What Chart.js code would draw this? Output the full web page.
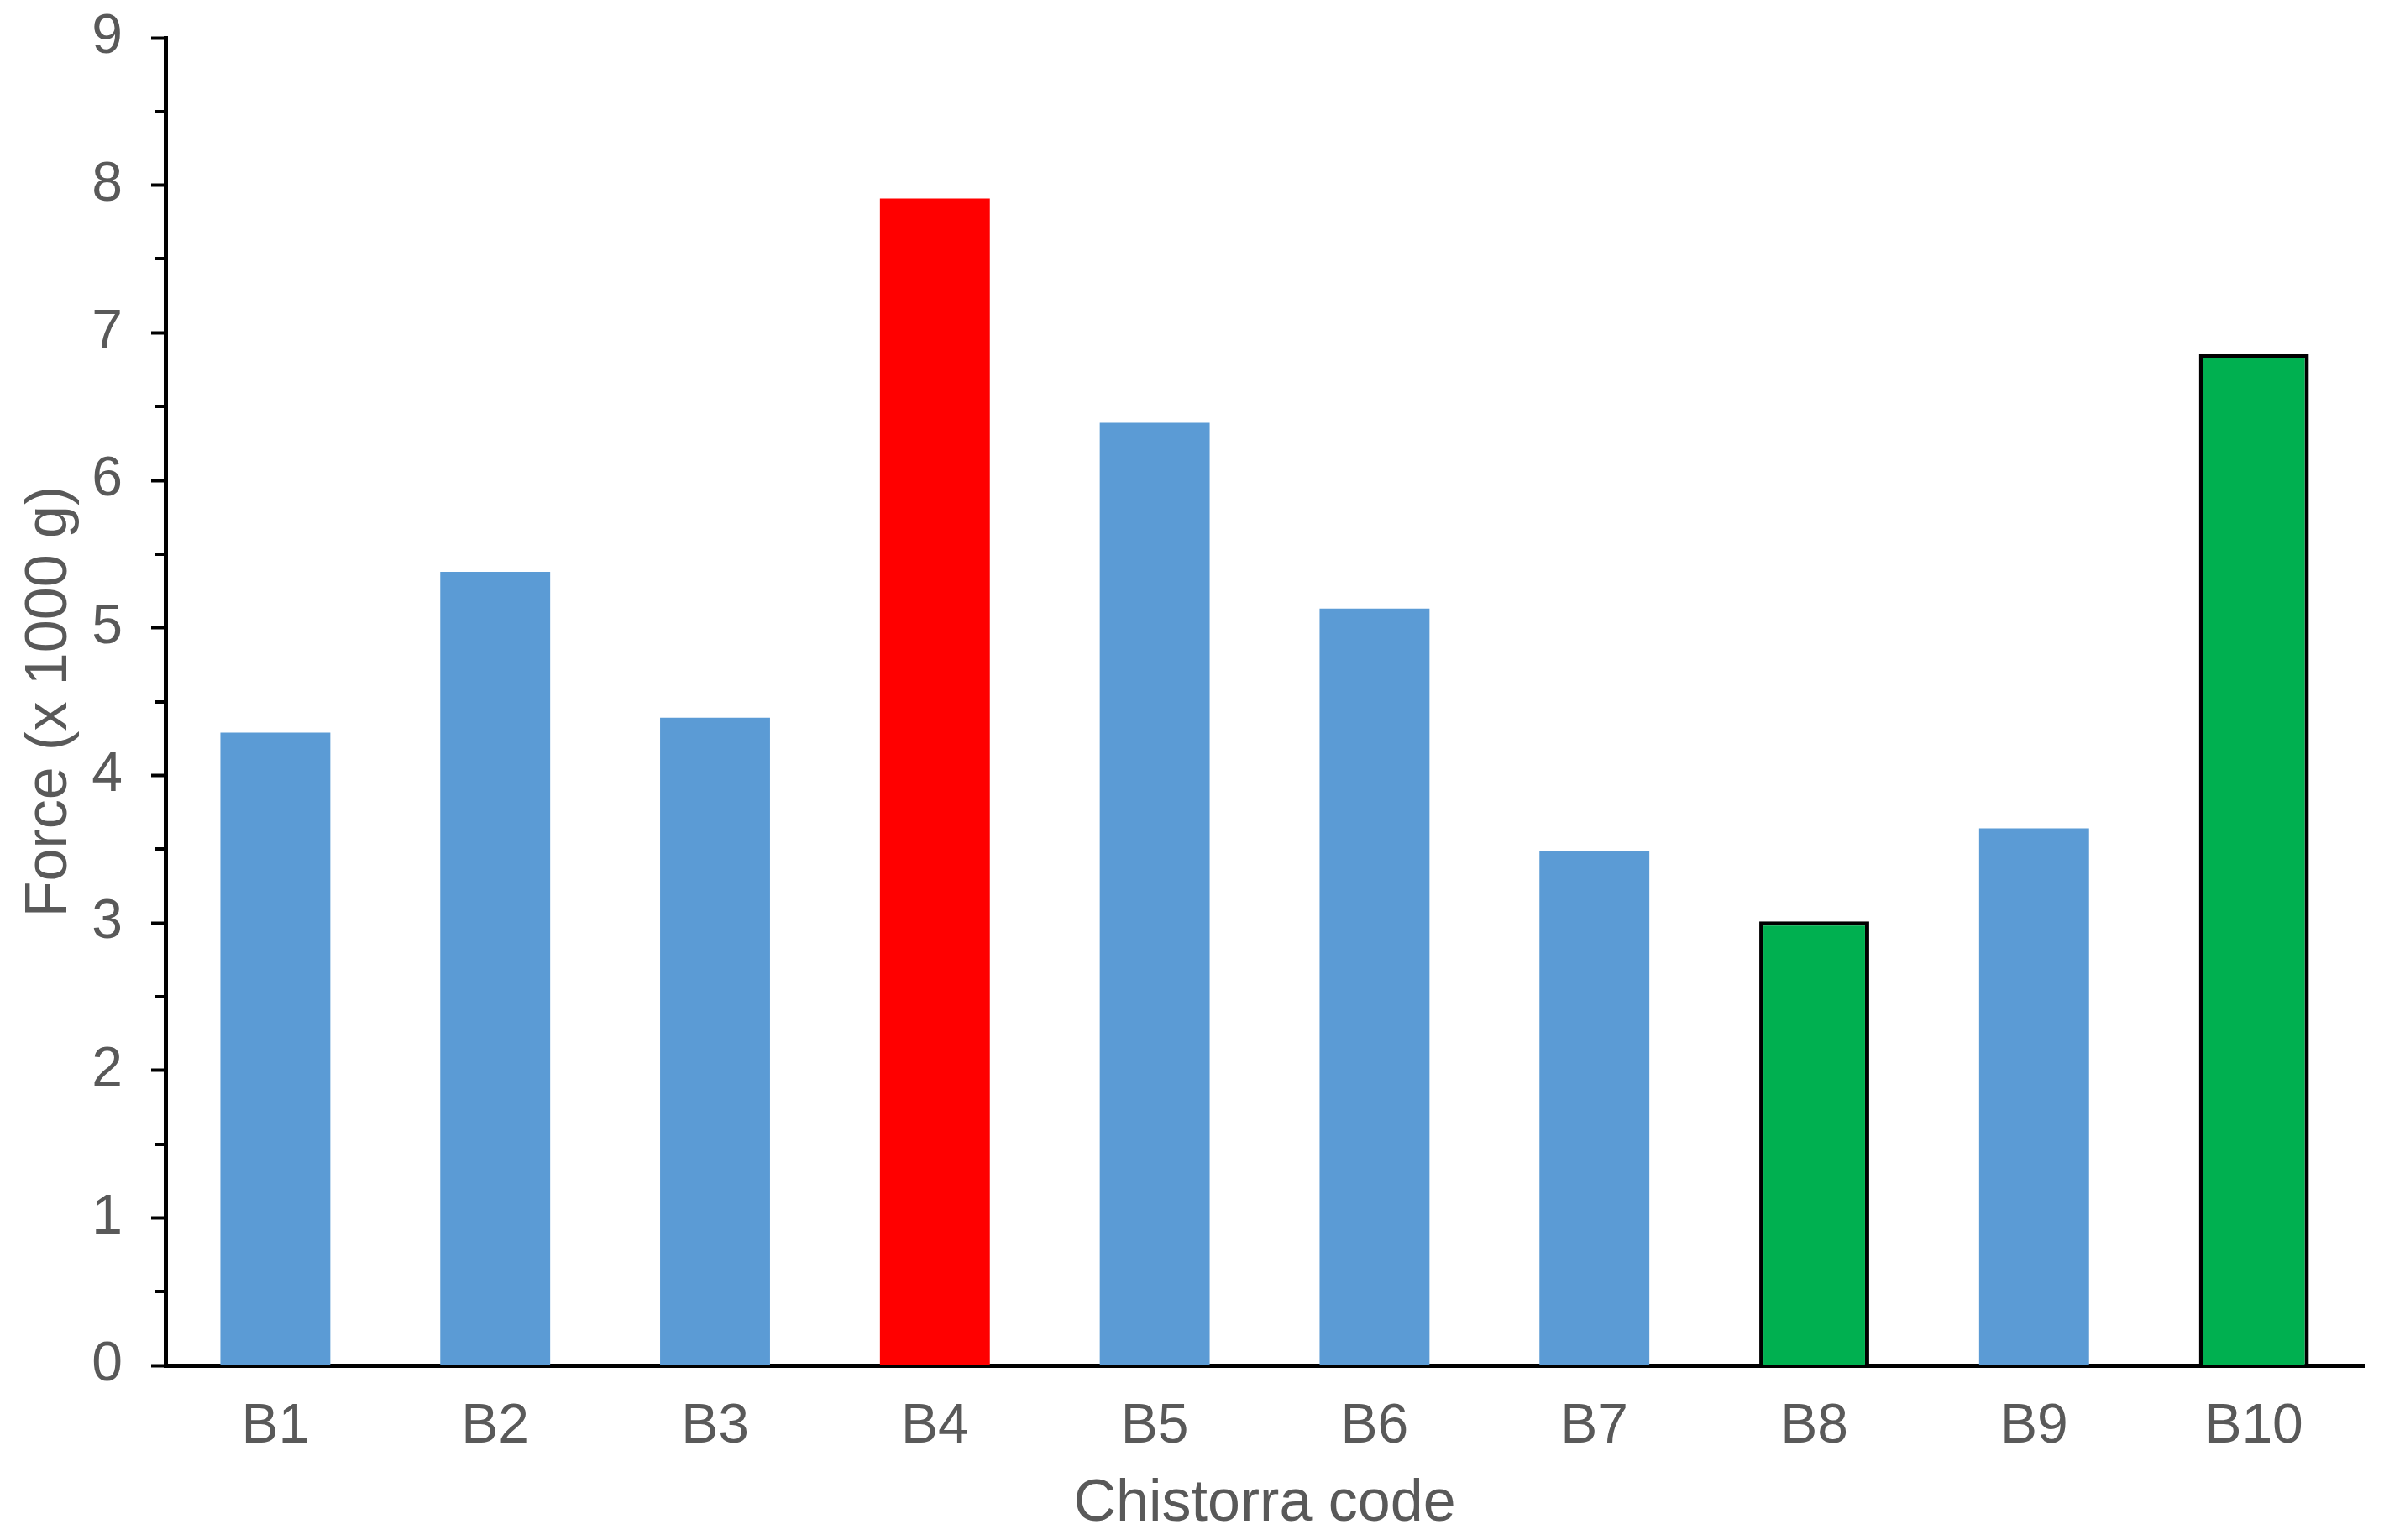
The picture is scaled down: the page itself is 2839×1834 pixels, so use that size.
<!DOCTYPE html>
<html>
<head>
<meta charset="utf-8">
<script src="https://cdn.jsdelivr.net/npm/chart.js@4.4.1/dist/chart.umd.min.js"></script>
<style>
html,body{margin:0;padding:0;background:#fff;}
#wrap{width:2839px;height:1834px;}
</style>
</head>
<body>
<div id="wrap"><canvas id="c" width="2839" height="1834"></canvas></div>
<script>
const categories = ["B1","B2","B3","B4","B5","B6","B7","B8","B9","B10"];
const forceValues = [4.29, 5.38, 4.39, 7.91, 6.39, 5.13, 3.49, 3.01, 3.64, 6.86];
const barColors = ["#5B9BD5","#5B9BD5","#5B9BD5","#FF0000","#5B9BD5","#5B9BD5","#5B9BD5","#00B050","#5B9BD5","#00B050"];
const barBorders = [0,0,0,0,0,0,0,5,0,5];
const yMin = 0, yMax = 9, yStep = 1;
const xTitle = "Chistorra code";
const yTitle = "Force (x 1000 g)";

const FONT = "'Liberation Sans', Arial, Helvetica, sans-serif";
const GREY = "#595959";

const minorTicks = {
  id: 'minorTicks',
  afterDraw(chart) {
    const y = chart.scales.y;
    const ctx = chart.ctx;
    ctx.save();
    ctx.strokeStyle = '#000';
    ctx.lineWidth = 4;
    for (let v = yMin + yStep/2; v < yMax; v += yStep) {
      const py = Math.round(y.getPixelForValue(v));
      ctx.beginPath();
      ctx.moveTo(y.right - 12, py);
      ctx.lineTo(y.right, py);
      ctx.stroke();
    }
    ctx.restore();
  }
};

new Chart(document.getElementById('c'), {
  type: 'bar',
  data: {
    labels: categories,
    datasets: [{
      data: forceValues,
      backgroundColor: barColors,
      borderColor: '#000',
      borderWidth: barBorders,
      barPercentage: 0.5,
      categoryPercentage: 1.0
    }]
  },
  options: {
    responsive: false,
    devicePixelRatio: 1,
    animation: false,
    layout: { padding: { left: 0, right: 24, top: 45, bottom: 0 } },
    plugins: { legend: { display: false }, tooltip: { enabled: false } },
    scales: {
      x: {
        grid: { display: false, drawTicks: false },
        border: { display: true, color: '#000', width: 5 },
        ticks: { color: GREY, font: { family: FONT, size: 66 }, padding: 34 },
        title: { display: true, text: xTitle, color: GREY, font: { family: FONT, size: 70 }, padding: { top: 0, bottom: 0 } },
        afterFit(s) { s.height = 208; s.paddingRight = 0; }
      },
      y: {
        min: yMin, max: yMax,
        grid: { drawOnChartArea: false, drawTicks: true, tickLength: 17, tickColor: '#000', tickWidth: 4 },
        border: { display: true, color: '#000', width: 5 },
        ticks: { stepSize: yStep, color: GREY, font: { family: FONT, size: 66 }, padding: 34 },
        title: { display: true, text: yTitle, color: GREY, font: { family: FONT, size: 70 }, padding: { top: 18, bottom: 0 } },
        afterFit(s) { s.width = 197; s.paddingTop = 0; s.paddingBottom = 0; }
      }
    }
  },
  plugins: [minorTicks]
});
</script>
</body>
</html>
